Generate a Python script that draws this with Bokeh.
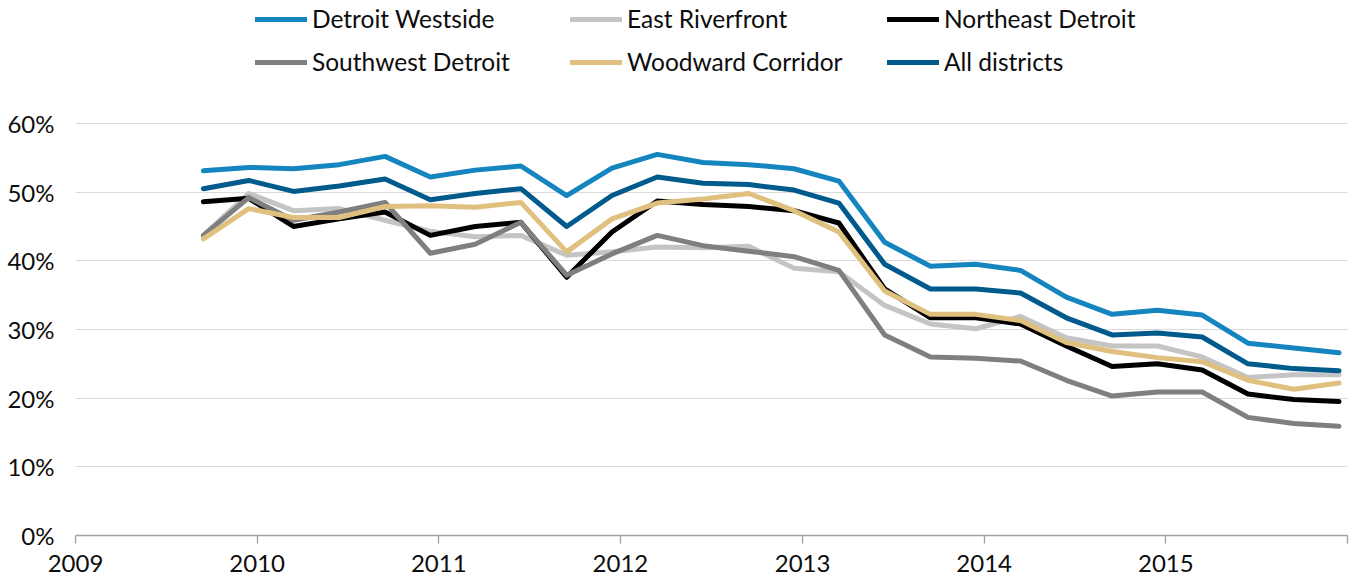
from datetime import datetime
from bokeh.plotting import figure
from bokeh.models import (Range1d, FixedTicker, PrintfTickFormatter,
                          DatetimeTickFormatter, Legend, LegendItem)
from bokeh.embed import file_html
from bokeh.resources import INLINE

# ---------------- data ----------------
dates = ["2009-09-15", "2009-12-15", "2010-03-15", "2010-06-15", "2010-09-15",
         "2010-12-15", "2011-03-15", "2011-06-15", "2011-09-15", "2011-12-15",
         "2012-03-15", "2012-06-15", "2012-09-15", "2012-12-15", "2013-03-15",
         "2013-06-15", "2013-09-15", "2013-12-15", "2014-03-15", "2014-06-15",
         "2014-09-15", "2014-12-15", "2015-03-15", "2015-06-15", "2015-09-15",
         "2015-12-15"]

detroit_westside = [53.1, 53.6, 53.4, 54.0, 55.2, 52.2, 53.2, 53.8, 49.5, 53.5,
                    55.5, 54.3, 54.0, 53.4, 51.6, 42.7, 39.2, 39.5, 38.6, 34.7,
                    32.2, 32.8, 32.1, 28.0, 27.3, 26.6]
east_riverfront = [43.7, 49.8, 47.3, 47.6, 45.9, 44.3, 43.5, 43.7, 40.8, 41.3,
                   42.0, 41.9, 42.1, 38.9, 38.4, 33.5, 30.8, 30.1, 31.9, 28.8,
                   27.6, 27.6, 26.0, 23.0, 23.4, 23.4]
northeast_detroit = [48.6, 49.1, 45.0, 46.1, 47.1, 43.7, 45.0, 45.6, 37.6, 44.2,
                     48.7, 48.2, 47.9, 47.3, 45.5, 35.9, 31.7, 31.7, 30.8, 27.6,
                     24.6, 25.0, 24.1, 20.6, 19.8, 19.5]
southwest_detroit = [43.7, 49.2, 45.9, 47.1, 48.5, 41.1, 42.4, 45.6, 37.9, 41.0,
                     43.7, 42.2, 41.4, 40.6, 38.6, 29.2, 26.0, 25.8, 25.4, 22.6,
                     20.3, 20.9, 20.9, 17.2, 16.3, 15.9]
woodward_corridor = [43.2, 47.6, 46.3, 46.3, 47.9, 48.0, 47.8, 48.5, 41.3, 46.1,
                     48.4, 49.0, 49.8, 47.3, 44.2, 35.6, 32.2, 32.2, 31.3, 28.1,
                     26.8, 25.9, 25.3, 22.6, 21.3, 22.2]
all_districts = [50.5, 51.7, 50.1, 50.9, 51.9, 48.9, 49.8, 50.5, 45.0, 49.5,
                 52.2, 51.3, 51.1, 50.3, 48.4, 39.5, 35.9, 35.9, 35.3, 31.7,
                 29.2, 29.5, 28.9, 25.0, 24.3, 24.0]

series_names = ["Detroit Westside", "East Riverfront", "Northeast Detroit",
                "Southwest Detroit", "Woodward Corridor", "All districts"]
series_values = [detroit_westside, east_riverfront, northeast_detroit,
                 southwest_detroit, woodward_corridor, all_districts]
series_colors = ["#1585BF", "#C4C4C4", "#000000", "#7F7F7F", "#E0C07E", "#005A8C"]

year_ticks = [2009, 2010, 2011, 2012, 2013, 2014, 2015, 2016]
y_ticks = [0, 10, 20, 30, 40, 50, 60]

# ---------------- figure ----------------
EPOCH = datetime(1970, 1, 1)


def ms(d):
    return (d - EPOCH).total_seconds() * 1000.0


x = [datetime.strptime(d, "%Y-%m-%d") for d in dates]

FONT = "Lato"
TXT = "#0D0D0D"

# the frame reaches the top of the canvas so that the legend can sit inside it;
# the value axis stops at 60 %, the headroom above it holds the legend
p = figure(width=1353, height=579, x_axis_type="datetime",
           output_backend="svg", toolbar_location=None,
           x_range=Range1d(datetime(2009, 1, 1), datetime(2016, 1, 1)),
           y_range=Range1d(0, 77.9),
           min_border_left=75, min_border_right=6,
           min_border_top=0, min_border_bottom=44)
p.outline_line_color = None
p.background_fill_color = "white"
p.border_fill_color = "white"

p.xgrid.grid_line_color = None
p.ygrid.grid_line_color = "#D9D9D9"
p.ygrid.grid_line_width = 1.2
p.ygrid.ticker = FixedTicker(ticks=y_ticks)

# y axis
p.yaxis.ticker = FixedTicker(ticks=y_ticks)
p.yaxis.formatter = PrintfTickFormatter(format="%d%%")
p.yaxis.axis_line_color = None
p.yaxis.major_tick_line_color = None
p.yaxis.minor_tick_line_color = None
p.yaxis.major_tick_in = 0
p.yaxis.major_tick_out = 0
p.yaxis.major_label_standoff = 21
p.yaxis.major_label_text_font = FONT
p.yaxis.major_label_text_font_size = "24px"
p.yaxis.major_label_text_color = TXT

# x axis
xt = [ms(datetime(yy, 1, 1)) for yy in year_ticks]
p.xaxis.ticker = FixedTicker(ticks=xt)
p.xaxis.formatter = DatetimeTickFormatter(
    years="%Y", months="%Y", days="%Y", hours="%Y", minutes="%Y",
    seconds="%Y", milliseconds="%Y", microseconds="%Y", hourmin="%Y",
    minsec="%Y")
p.xaxis.major_label_overrides = {xt[-1]: ""}
p.xaxis.axis_line_color = "#A0A0A0"
p.xaxis.axis_line_width = 1.3
p.xaxis.major_tick_line_color = "#A0A0A0"
p.xaxis.major_tick_line_width = 1.3
p.xaxis.major_tick_in = 0
p.xaxis.major_tick_out = 8
p.xaxis.minor_tick_line_color = None
p.xaxis.major_label_standoff = 11
p.xaxis.major_label_text_font = FONT
p.xaxis.major_label_text_font_size = "24px"
p.xaxis.major_label_text_color = TXT

renderers = {}
for name, vals, col in zip(series_names, series_values, series_colors):
    r = p.line(x, vals, line_color=col, line_width=5,
               line_cap="round", line_join="round")
    renderers[name] = r

legend_columns = [["Detroit Westside", "Southwest Detroit"],
                  ["East Riverfront", "Woodward Corridor"],
                  ["Northeast Detroit", "All districts"]]
legend_x = [180, 495, 812]

for names, vx in zip(legend_columns, legend_x):
    lg = Legend(items=[LegendItem(label=n, renderers=[renderers[n]]) for n in names],
                location=(vx, 459), orientation="vertical",
                padding=0, margin=0, spacing=14,
                glyph_width=52, glyph_height=28, label_height=28,
                label_standoff=5,
                label_text_font=FONT, label_text_font_size="24.5px",
                label_text_color=TXT,
                border_line_alpha=0, background_fill_alpha=0)
    p.add_layout(lg)

open("out.html", "w").write(file_html(p, INLINE))
